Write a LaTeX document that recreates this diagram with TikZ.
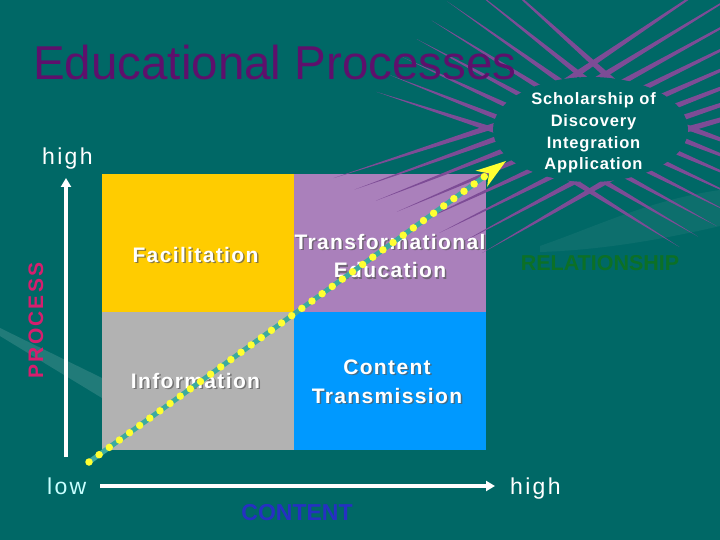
\documentclass[tikz,border=0pt]{standalone}
\usepackage{fontspec}
\setmainfont{Liberation Sans}
\newfontfamily\wideF[LetterSpace=10]{Liberation Sans}
\newfontfamily\semiF[LetterSpace=5]{Liberation Sans}
\newfontfamily\quadF[LetterSpace=6.5]{Liberation Sans}
\usetikzlibrary{arrows.meta,calc,shapes.geometric}
\definecolor{bg}{RGB}{0,104,102}
\definecolor{burst}{RGB}{125,76,150}
\definecolor{titlec}{RGB}{94,16,108}
\definecolor{qyel}{RGB}{255,204,0}
\definecolor{qpur}{RGB}{170,128,187}
\definecolor{qgry}{RGB}{178,178,178}
\definecolor{qblu}{RGB}{0,153,255}
\definecolor{procc}{RGB}{214,30,110}
\definecolor{relc}{RGB}{12,112,38}
\definecolor{contc}{RGB}{38,48,195}
\definecolor{dotline}{RGB}{60,170,160}
\definecolor{doty}{RGB}{255,255,50}
\definecolor{lowc}{RGB}{200,255,255}
\tikzset{
  quad/.style={rectangle, minimum width=192pt, minimum height=138pt, inner sep=0pt, outer sep=0pt},
  qlabel/.style={anchor=base, inner sep=0pt, text=white, font=\quadF\bfseries\fontsize{21}{26}\selectfont},
  qshadow/.style={qlabel, text=black!65, opacity=0.7},
  elltext/.style={anchor=base, inner sep=0pt, text=white, font=\semiF\bfseries\fontsize{16.5}{20}\selectfont},
  axislbl/.style={anchor=base west, inner sep=0pt, font=\wideF\fontsize{23}{28}\selectfont},
  axisline/.style={white, line width=3.5pt, -{Triangle[length=9pt,width=10pt]}},
}
\newcommand{\shlabel}[4]{%
  \node[qshadow] (#1s) at (#2+1.5,#3+1.5) {#4};
  \node[qlabel] (#1) at (#2,#3) {#4};}
% arm: start point A, end point B, base angle (k=0), end angle (k=7), length k=0, length k=7
\newcommand{\burstarm}[6]{%
  \foreach \k in {0,...,7}{%
    \pgfmathsetmacro\tt{\k/7}%
    \pgfmathsetmacro\th{#3+(#4-(#3))*\tt}%
    \pgfmathsetmacro\ln{#5+(#6-(#5))*\tt}%
    \coordinate (bp) at ($#1!\tt!#2$);
    \fill[burst] ($(bp)+(\th:-25)+(\th+90:3.4)$) -- ($(bp)+(\th:\ln)$) -- ($(bp)+(\th:-25)+(\th-90:3.4)$) -- cycle;
  }}
\begin{document}
\begin{tikzpicture}[x=1pt,y=-1pt]
\fill[bg] (0,0) rectangle (720,540);
\useasboundingbox (0,0) rectangle (720,540);
% faint background swooshes
\fill[white,opacity=0.13] (0,328) -- (102,378) -- (102,398) -- (0,336) -- cycle;
\fill[white,opacity=0.05] (540,246) .. controls (600,225) and (650,200) .. (720,190) -- (720,226) .. controls (660,240) and (600,250) .. (540,252) -- cycle;
% quadrants
\node[quad, fill=qyel] (qf) at (198,243) {};
\node[quad, fill=qpur] (qt) at (390,243) {};
\node[quad, fill=qgry] (qi) at (198,381) {};
\node[quad, fill=qblu] (qc) at (390,381) {};
% starburst whiskers
\begin{scope}
\clip (0,0) rectangle (720,540);
\burstarm{(612,80)}{(500,132)}{222}{198}{175}{130}   % upper left
\burstarm{(568,80)}{(678,132)}{326}{344}{220}{200}   % upper right
\burstarm{(500,124)}{(612,178)}{162}{150}{175}{150}  % lower left
\burstarm{(678,124)}{(569,178)}{20}{32}{140}{130}    % lower right
\end{scope}
\node[ellipse, fill=bg, inner sep=0pt, minimum width=195pt, minimum height=105pt] (ell) at (590.5,129.5) {};
\node[elltext] (e1) at (593.5,105) {Scholarship of};
\node[elltext] (e2) at (593.5,126.7) {Discovery};
\node[elltext] (e3) at (593.5,148.3) {Integration};
\node[elltext] (e4) at (593.5,170) {Application};
% title
\node[anchor=base west, inner sep=0pt, text=titlec, font=\fontsize{47.5}{56}\selectfont] (title) at (33,80) {Educational Processes};
% quadrant labels
\shlabel{lf}{195.5}{262}{Facilitation}
\shlabel{lt1}{390}{249}{Transformational}
\shlabel{lt2}{390}{277.5}{Education}
\shlabel{li}{195.5}{388}{Information}
\shlabel{lc1}{387}{374}{Content}
\shlabel{lc2}{387}{403}{Transmission}
% axes
\coordinate (vs) at (66,457);
\coordinate (vt) at (66,178);
\draw[axisline] (vs) -- (vt);
\coordinate (hs) at (100,486);
\coordinate (ht) at (495,486);
\draw[axisline] (hs) -- (ht);
\node[axislbl, text=white] (hhigh) at (42,165) {high};
\node[axislbl, text=lowc] (hlow) at (47,494) {low};
\node[axislbl, text=white] (hhigh2) at (510,494) {high};
\node[anchor=base, inner sep=0pt, text=contc, font=\bfseries\fontsize{23}{28}\selectfont] (content) at (297,520) {CONTENT};
\node[rotate=90, anchor=base, inner sep=0pt, text=procc, font=\wideF\bfseries\fontsize{21}{26}\selectfont] (process) at (43,320.5) {PROCESS};
\node[anchor=base, inner sep=0pt, text=relc, font=\bfseries\fontsize{21.5}{26}\selectfont] (rel) at (600,270) {RELATIONSHIP};
% dotted arrow
\coordinate (ds) at (89,462);
\coordinate (dt) at (506,161);
\coordinate (db) at ($(dt)!24pt!(ds)$);
\draw[dotline, line width=5pt] (ds) -- (db);
\draw[doty, line width=7.5pt, line cap=round, dash pattern=on 0pt off 12.5pt] (ds) -- (db);
\fill[doty] (dt) -- ($(dt)!32pt!18:(ds)$) -- ($(dt)!21pt!(ds)$) -- ($(dt)!32pt!-18:(ds)$) -- cycle;
\end{tikzpicture}
\end{document}
